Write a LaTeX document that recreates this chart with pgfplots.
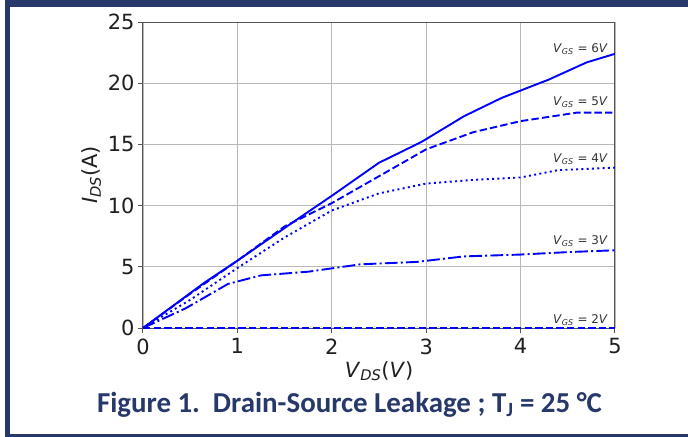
\documentclass[border=0pt]{standalone}
\usepackage{pgfplots}
\pgfplotsset{compat=1.18}
\usepackage{fontspec}
\setmainfont{DejaVu Sans}
\newfontfamily\carlito{Carlito}
\definecolor{navy}{HTML}{27396A}
\definecolor{lbl}{HTML}{333333}
\definecolor{spine}{HTML}{555555}
\begin{document}
\begin{tikzpicture}
\useasboundingbox (-143bp,-109bp) rectangle (545bp,328bp);
\fill[white] (-143bp,-109bp) rectangle (545bp,328bp);
\fill[navy] (-138bp,321bp) rectangle (545bp,328bp);
\fill[navy] (-138bp,-108.7bp) rectangle (-133bp,328bp);
\fill[navy] (-138bp,-108.7bp) rectangle (545bp,-106.3bp);
\begin{axis}[
  scale only axis, width=472bp, height=306bp,
  xmin=0, xmax=5, ymin=0, ymax=25,
  xtick={0,1,2,3,4,5}, ytick={0,5,10,15,20,25},
  grid=major, grid style={color=black!28, line width=0.9bp},
  axis line style={spine, line width=1bp},
  tick style={spine, line width=1bp},
  tick align=outside, major tick length=5bp,
  xtick pos=bottom, ytick pos=left,
  /pgf/number format/assume math mode=true,
  ticklabel style={font=\fontsize{21}{24}\selectfont, text=black!88},
  xticklabel style={yshift=-2bp},
  xlabel={\textit{V}\textsubscript{\textit{DS}}(\textit{V})},
  ylabel={\textit{I}\textsubscript{\textit{DS}}(A)},
  label style={font=\fontsize{21}{24}\selectfont, text=black!88},
  every axis plot/.append style={blue, line width=1.9bp},
]
\addplot[solid] coordinates {(0,0) (0.65,3.7) (1.0,5.5) (1.6,8.7) (2.0,10.8) (2.5,13.5) (2.95,15.2) (3.4,17.3) (3.8,18.8) (4.3,20.3) (4.7,21.7) (5,22.4)};
\addplot[dash pattern=on 7.4bp off 3.2bp] coordinates {(0,0) (0.5,2.8) (1.0,5.5) (1.5,8.3) (2.0,10.2) (2.5,12.4) (3.0,14.6) (3.5,16.0) (4.0,16.9) (4.6,17.6) (5.0,17.6)};
\addplot[dash pattern=on 2bp off 3.3bp] coordinates {(0,0) (0.5,2.3) (1.0,4.9) (1.5,7.4) (2.0,9.6) (2.5,11.0) (3.0,11.8) (3.5,12.1) (4.0,12.3) (4.4,12.9) (5,13.1)};
\addplot[dash pattern=on 12.8bp off 3.2bp on 2bp off 3.2bp] coordinates {(0,0) (0.45,1.6) (0.9,3.6) (1.25,4.3) (1.75,4.6) (2.3,5.2) (2.9,5.4) (3.4,5.85) (4.0,6.0) (4.5,6.2) (5,6.35)};
\addplot[dash pattern=on 7.4bp off 3.2bp] coordinates {(0,0.03) (5,0.03)};
\begin{scope}[every node/.style={anchor=base east, text=lbl, font=\fontsize{12}{14}\selectfont, inner sep=0pt}]
\node at (axis cs:4.926,22.5) {\textit{V}\textsubscript{\textit{GS}} = 6\textit{V}};
\node at (axis cs:4.926,18.2) {\textit{V}\textsubscript{\textit{GS}} = 5\textit{V}};
\node at (axis cs:4.926,13.5) {\textit{V}\textsubscript{\textit{GS}} = 4\textit{V}};
\node at (axis cs:4.926,6.8) {\textit{V}\textsubscript{\textit{GS}} = 3\textit{V}};
\node at (axis cs:4.926,0.33) {\textit{V}\textsubscript{\textit{GS}} = 2\textit{V}};
\end{scope}
\end{axis}
\node[anchor=base, text=navy, font=\carlito\bfseries\fontsize{29}{32}\selectfont, inner sep=0pt] at (206.5bp,-84bp) {Figure 1.\ \ Drain-Source Leakage ; T\textsubscript{J} = 25 °C};
\end{tikzpicture}
\end{document}
